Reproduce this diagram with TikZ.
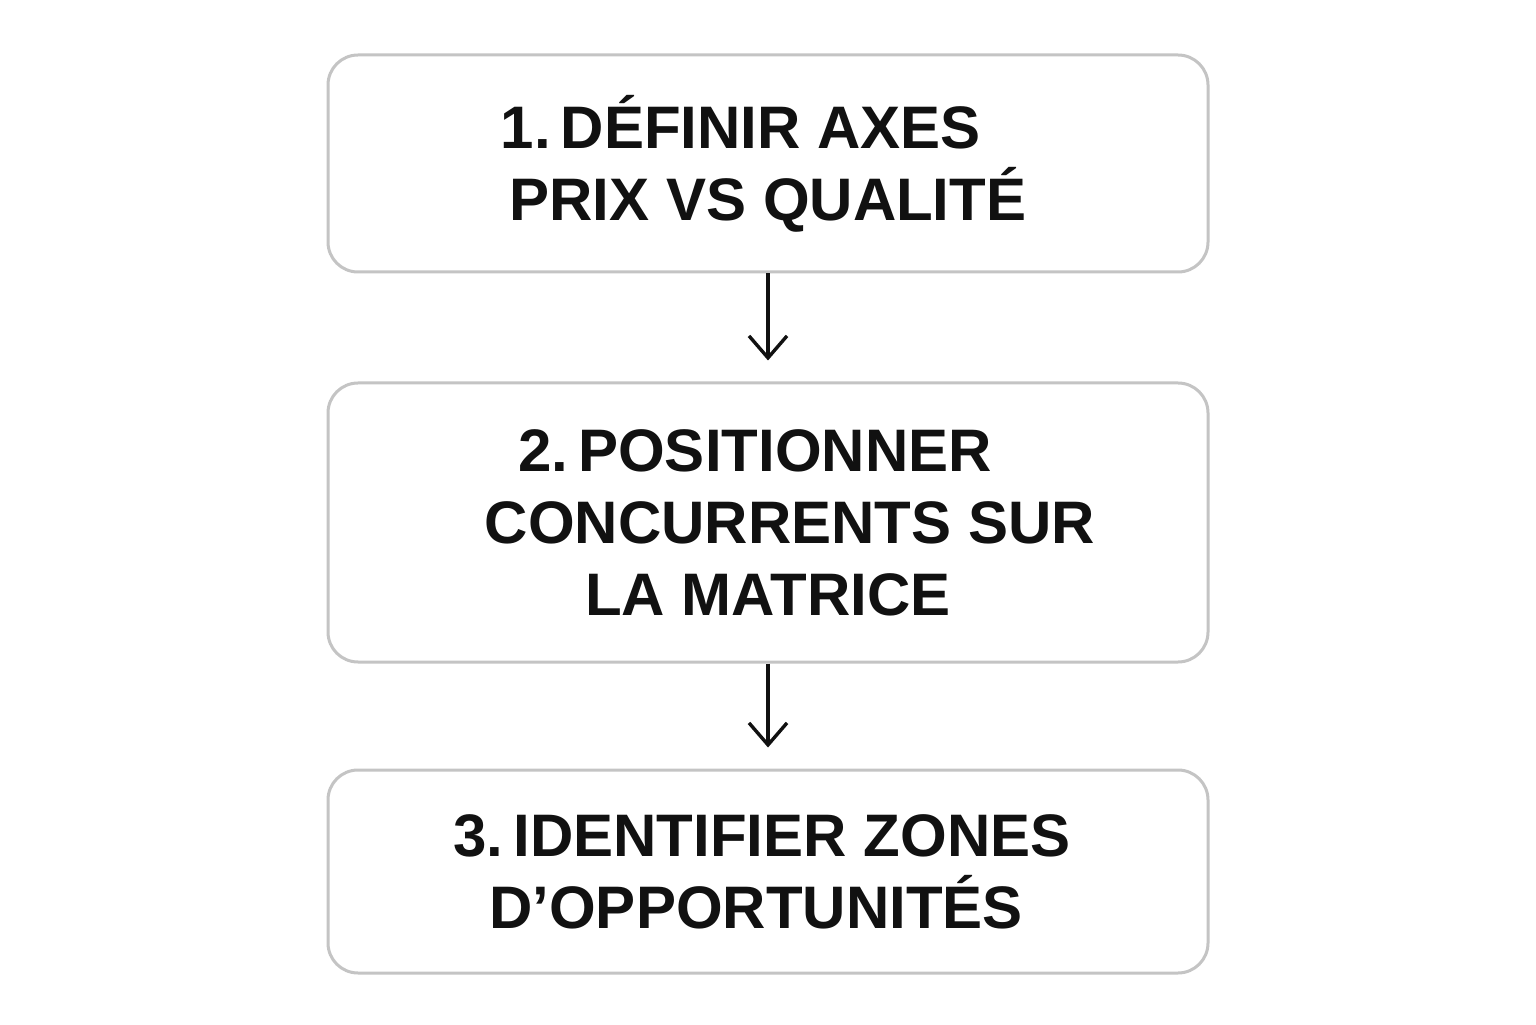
\documentclass[tikz,border=0pt]{standalone}
\usepackage{fontspec}
\setmainfont{Liberation Sans}
\usepackage{xcolor}
\usetikzlibrary{arrows.meta}

\definecolor{boxgray}{HTML}{C4C4C4}
\definecolor{ink}{HTML}{111111}

\tikzset{
    stepbox/.style={rectangle, rounded corners=15pt, draw=boxgray, line width=1.5pt,
        minimum width=440pt, align=center, text=ink,
        font=\fontsize{30}{36}\selectfont\bfseries},
    flow/.style={-{Straight Barb[length=11pt, width=19pt, line width=1.7pt]},
        line width=1.7pt, draw=ink, shorten >=10.5pt}
}

\begin{document}
\begin{tikzpicture}[x=1pt, y=1pt]
    \useasboundingbox[fill=white] (0, 0) rectangle (768, 512);

    \node[stepbox, minimum height=108.5pt] at (384, 430.25) (axes) {1.\,DÉFINIR AXES\hspace*{27pt}\\PRIX VS QUALITÉ};
    \node[stepbox, minimum height=139.5pt] at (384, 250.75) (position) {2.\,POSITIONNER\hspace*{13pt}\\\hspace*{22pt}CONCURRENTS SUR\\LA MATRICE};
    \node[stepbox, minimum height=101.5pt] at (384, 76.25) (zones) {3.\,IDENTIFIER ZONES\hspace*{6pt}\\D’OPPORTUNITÉS\hspace*{12pt}};

    \draw[flow] (axes) -- (position);
    \draw[flow] (position) -- (zones);
\end{tikzpicture}
\end{document}
